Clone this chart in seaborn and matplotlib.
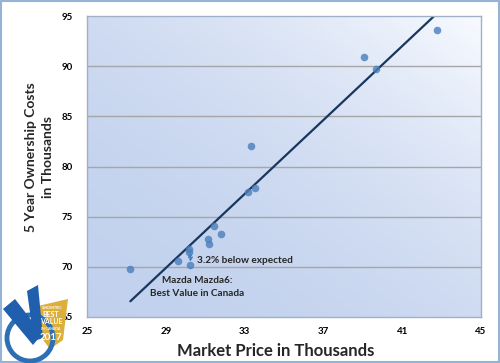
import numpy as np
import matplotlib.pyplot as plt
import seaborn as sns
from matplotlib.patches import Polygon, Rectangle, Ellipse

# market price vs 5-year ownership cost (thousands)
price = [27.2, 29.6, 30.2, 30.2, 30.25, 31.15, 31.2, 31.45, 31.8,
         33.15, 33.3, 33.55, 39.05, 39.65, 42.75]
cost = [69.8, 70.6, 71.75, 71.5, 70.15, 72.8, 72.3, 74.1, 73.3,
        77.5, 82.0, 77.9, 90.95, 89.7, 93.6]
xticks = [25, 29, 33, 37, 41, 45]
yticks = [65, 70, 75, 80, 85, 90, 95]
mazda_x, mazda_y = 30.25, 70.15

sns.set_style('white')
plt.rcParams['font.family'] = ['Lato', 'DejaVu Sans']

W, H = 500, 363
fig = plt.figure(figsize=(W / 100, H / 100), dpi=100)
ax = fig.add_axes([87 / W, 1 - 317 / H, 394 / W, 301 / H])


def px(x, y):
    # pixel position -> figure fraction (used for the decorative badge only)
    return [x / W, 1 - y / H]


# gradient background of the plot area
gx, gy = np.meshgrid(np.linspace(0, 1, 200), np.linspace(0, 1, 200))
t = np.clip(0.5 * gx + 0.5 * gy, 0, 1) ** 2
c0 = np.array([0.76, 0.82, 0.93])
c1 = np.array([0.97, 0.98, 1.0])
img = c0[None, None, :] * (1 - t[..., None]) + c1[None, None, :] * t[..., None]
ax.imshow(img, extent=[25, 45, 65, 95], origin='lower', aspect='auto', zorder=0)

for y in yticks[1:-1]:
    ax.axhline(y, color='#a6a6a6', lw=1.0, zorder=1)

sns.regplot(x=price, y=cost, ax=ax, ci=None,
            scatter_kws={'s': 30, 'color': '#4a7ebb', 'zorder': 3, 'linewidths': 0},
            line_kws={'color': '#17375e', 'lw': 1.6, 'zorder': 2})

ax.set_xlim(25, 45)
ax.set_ylim(65, 95)
ax.set_xticks(xticks)
ax.set_yticks(yticks)
ax.tick_params(labelsize=7, length=3, direction='in', colors='black')
ax.tick_params(axis='y', pad=10)
ax.tick_params(axis='x', pad=7)
for lbl in ax.get_xticklabels() + ax.get_yticklabels():
    lbl.set_fontweight('bold')
for s in ax.spines.values():
    s.set_color('#a0b0c8')
    s.set_linewidth(1.0)

# expected vs actual arrow
ax.annotate('', xy=(mazda_x, mazda_y + 0.35), xytext=(mazda_x, 71.4),
            arrowprops=dict(arrowstyle='<->', color='#4a7ebb', lw=1, ls='--',
                            shrinkA=0, shrinkB=0, mutation_scale=6))
ax.text(30.6, 70.6, '3.2% below expected', fontsize=7.2, fontweight='bold',
        va='center', ha='left')
ax.text(30.6, 68.0, 'Mazda Mazda6:\nBest Value in Canada', fontsize=7.2,
        fontweight='bold', va='center', ha='center', linespacing=1.55)

ax.set_xlabel('Market Price in Thousands', fontsize=12, fontweight='bold')
ax.xaxis.set_label_coords(0.478, -0.085)
ax.set_ylabel('5 Year Ownership Costs\nin Thousands', fontsize=10,
              fontweight='bold', linespacing=1.5)
ax.yaxis.set_label_coords(-0.085, 0.53)

# outer frame
fig.patches.append(Rectangle((0.002, 0.003), 0.996, 0.994, transform=fig.transFigure,
                             fill=False, ec='#95b3d7', lw=1.5))

# badge in the lower-left corner
tf = fig.transFigure
fig.patches.append(Polygon([px(38, 306), px(68, 299), px(63, 340), px(50, 349), px(40, 336)],
                           closed=True, transform=tf, fc='#dcae3a', ec='none'))
fig.patches.append(Ellipse(px(30, 338), 46 / W, 46 / H, transform=tf, fill=False,
                           ec='#2c6fb5', lw=3.5))
fig.patches.append(Polygon([px(3, 309), px(15, 299), px(42, 334), px(33, 345)],
                           closed=True, transform=tf, fc='#1f5fae', ec='none'))
fig.patches.append(Polygon([px(27, 291), px(38, 285), px(43, 338), px(34, 341)],
                           closed=True, transform=tf, fc='#1f5fae', ec='none'))
fig.text(*px(51, 308), 'VINCENTRIC', fontsize=2.5, fontweight='bold', color='white',
         ha='center', va='center')
fig.text(*px(51, 318), 'BEST\nVALUE', fontsize=5, fontweight='bold', color='white',
         ha='center', va='center', linespacing=0.85)
fig.text(*px(51, 329), 'IN CANADA', fontsize=2.5, fontweight='bold', color='white',
         ha='center', va='center')
fig.text(*px(51, 337), '2017', fontsize=7, fontweight='bold', color='white',
         ha='center', va='center')

fig.savefig('out.png', dpi=100, facecolor='white')
